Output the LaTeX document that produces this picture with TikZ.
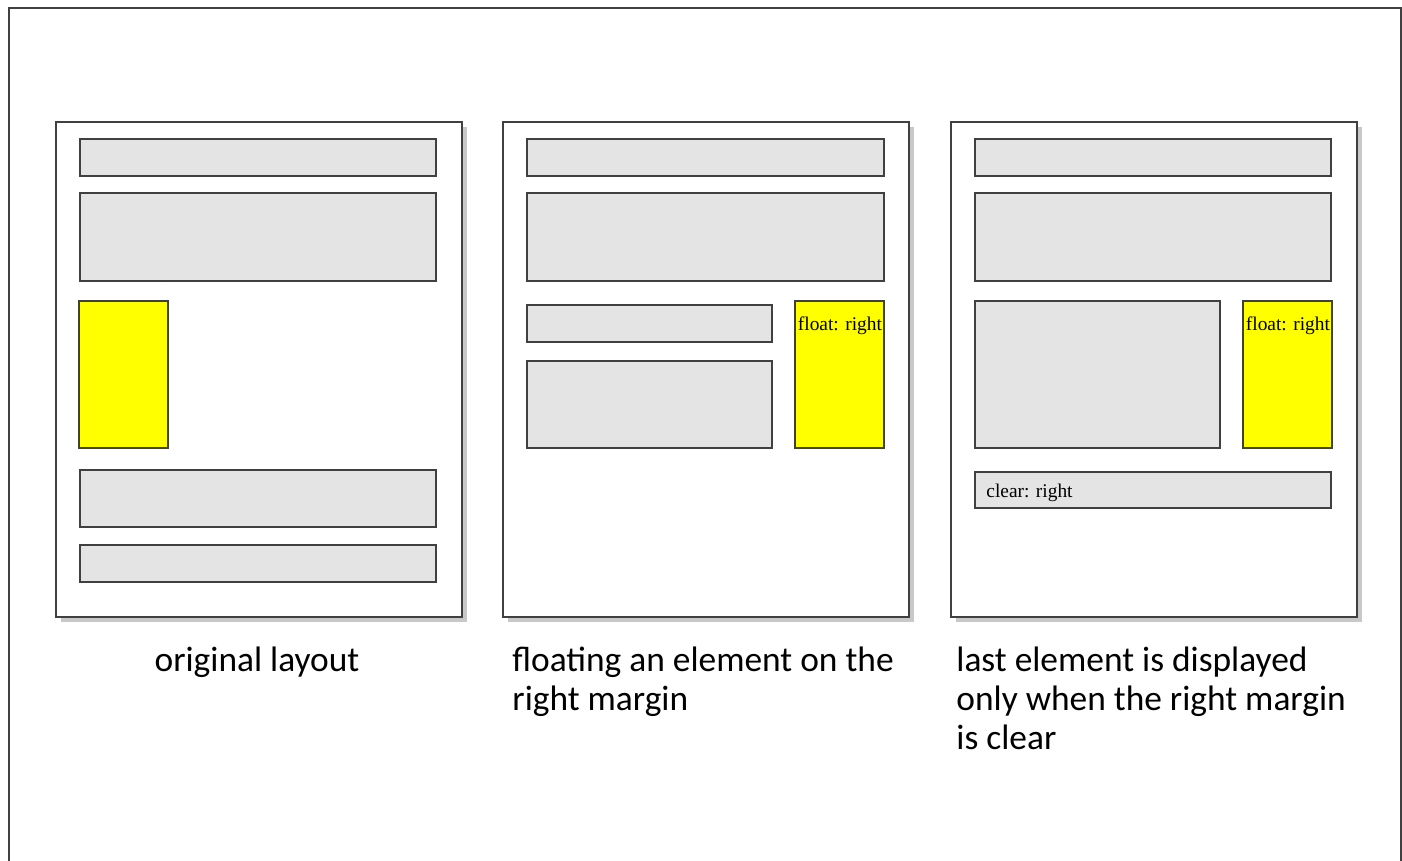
\documentclass[tikz,border=0pt]{standalone}
\usepackage{fontspec}
\setmainfont{Liberation Serif}
\newfontfamily\capfont{Carlito}
\definecolor{pageline}{RGB}{64,64,64}
\definecolor{blockgray}{RGB}{228,228,228}
\definecolor{shadowgray}{RGB}{200,200,200}
\definecolor{floatyellow}{RGB}{255,255,0}
\begin{document}
\begin{tikzpicture}[x=0.5pt,y=-0.5pt,
    page/.style={draw=pageline, line width=0.9pt, fill=white},
    pageshadow/.style={fill=shadowgray},
    block/.style={draw=pageline, line width=0.9pt, fill=blockgray},
    floater/.style={draw=pageline, line width=0.9pt, fill=floatyellow},
    caption/.style={font=\capfont\fontsize{17.7}{19.4}\selectfont, align=left,
                    inner sep=0pt, anchor=north west},
    tag/.style={font=\fontsize{9.7}{12}\selectfont, inner sep=0pt, anchor=base west}
]
\useasboundingbox (0,0) rectangle (1402,861);
\draw[pageline, line width=1pt] (9,861) -- (9,8) -- (1401,8) -- (1401,861);

% the three pages
\foreach \x in {56,503,951} {
  \fill[pageshadow] (\x+5,127) rectangle (\x+411,622);
  \draw[page] (\x,122) rectangle (\x+406,617);
}

% original layout
\draw[block] (80,139) rectangle (436,176);
\draw[block] (80,193) rectangle (436,281);
\draw[floater] (79,301) rectangle (168,448);
\draw[block] (80,470) rectangle (436,527);
\draw[block] (80,545) rectangle (436,582);

% float: right
\draw[block] (527,139) rectangle (884,176);
\draw[block] (527,193) rectangle (884,281);
\draw[block] (527,305) rectangle (772,342);
\draw[block] (527,361) rectangle (772,448);
\draw[floater] (795,301) rectangle (884,448);
\node[tag] (float1) at (797.5,330) {float: right};

% clear: right
\draw[block] (975,139) rectangle (1331,176);
\draw[block] (975,193) rectangle (1331,281);
\draw[block] (975,301) rectangle (1220,448);
\draw[floater] (1243,301) rectangle (1332,448);
\node[tag] (float2) at (1245.5,330) {float: right};
\draw[block] (975,472) rectangle (1331,508);
\node[tag] (clear) at (986,497) {clear: right};

% captions
\node[caption, anchor=north] (cap1) at (257,647) {original layout};
\node[caption] (cap2) at (512,647) {floating an element on the\\right margin};
\node[caption] (cap3) at (956,647) {last element is displayed\\only when the right margin\\is clear};
\end{tikzpicture}
\end{document}
